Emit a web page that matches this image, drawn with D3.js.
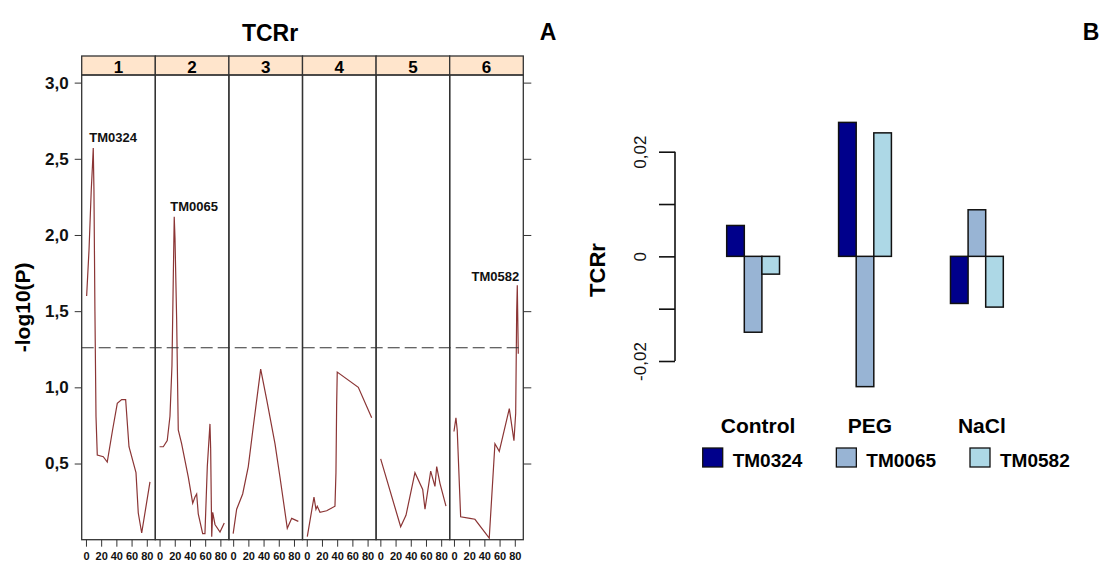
<!DOCTYPE html>
<html>
<head>
<meta charset="utf-8">
<script src="https://cdn.jsdelivr.net/npm/d3@7"></script>
<style>
  body { margin: 0; background: #fff; }
  svg { font-family: "Liberation Sans", Arial, sans-serif; }
</style>
</head>
<body>
<svg id="canvas"></svg>
<script>
// ---- panel A data: -log10(P) along each linkage group (cM, value)
let groups = ['1', '2', '3', '4', '5', '6'];
let lg1 = [[0.9,1.6],[4,1.9],[7,2.3],[8.5,2.45],[9.6,2.57],[10.5,2.3],[11.8,1.5],[13.2,0.81],[14.9,0.556],[22.8,0.545],[28,0.51],[35,0.72],[41.2,0.895],[47,0.92],[52.2,0.92],[56.6,0.61],[65.8,0.44],[68.8,0.175],[73.3,0.044],[84.2,0.38]];
let lg2 = [[0,0.61],[4.9,0.61],[10.1,0.65],[13.7,0.81],[16.3,1.14],[18,1.7],[19.3,2.12],[20.3,1.98],[22.5,1.44],[24.6,0.72],[29,0.63],[37.8,0.41],[43.6,0.24],[46.6,0.28],[48.8,0.3],[50.9,0.17],[56.7,0.04],[59.7,0.04],[62.8,0.48],[66.3,0.76],[67.2,0.6],[68.6,0.02],[69.9,0.18],[72.9,0.1],[79.5,0.05],[85.1,0.11]];
let lg3 = [[0,0.04],[4.6,0.2],[12.5,0.3],[19.9,0.48],[26.4,0.74],[36.2,1.12],[44.1,0.92],[55,0.63],[61.6,0.41],[71.2,0.075],[77,0.14],[85.7,0.12]];
let lg4 = [[0.7,0.02],[9.5,0.28],[12.1,0.2],[13.8,0.22],[17.4,0.18],[26.2,0.19],[37.1,0.22],[38.4,0.44],[39.3,0.88],[40.1,1.1],[67.8,1.0],[85.4,0.8]];
let lg5 = [[0.4,0.53],[26.7,0.085],[33.7,0.16],[45.5,0.44],[55.7,0.33],[58.7,0.2],[66.2,0.45],[71.8,0.35],[74.1,0.48],[78.4,0.37],[86.3,0.22]];
let lg6 = [[0,0.71],[2.6,0.8],[4.3,0.72],[8.8,0.15],[21,0.14],[27.6,0.134],[46.4,0.01],[53.9,0.63],[59.6,0.58],[72.8,0.86],[78.9,0.65],[81.2,0.83],[82.5,1.5],[83.3,1.67],[84.6,1.22]];
let lgValues = [lg1, lg2, lg3, lg4, lg5, lg6];
let peakGroup = ['1', '2', '6'];
let peakPos = [9.6, 19.3, 83.3];
let peakVal = [2.57, 2.12, 1.67];
let peakName = ['TM0324', 'TM0065', 'TM0582'];
let threshold = 1.26;
let yTicksA = [0.5, 1.0, 1.5, 2.0, 2.5, 3.0];
let xTicksA = [0, 20, 40, 60, 80];

// ---- panel B data: TCRr per treatment
let treatments = ['Control', 'PEG', 'NaCl'];
let markers = ['TM0324', 'TM0065', 'TM0582'];
let tm0324 = [0.0059, 0.0256, -0.009];
let tm0065 = [-0.0145, -0.0249, 0.0089];
let tm0582 = [-0.0034, 0.0236, -0.0097];
let yTicksB = [-0.02, -0.01, 0, 0.01, 0.02];
let yTickLabelsB = ['-0,02', '', '0', '', '0,02'];
let markerColors = ['#00008b', '#98b4d4', '#add8e6'];

let width = 1104;
let height = 563;
let fmt = (v) => d3.format('.1f')(v).replace('.', ',');

let svg = d3.select('#canvas').attr('width', width).attr('height', height);
svg.append('rect').attr('width', width).attr('height', height).attr('fill', '#fff');

// ================= panel A =================
let plotLeft = 81.7, plotRight = 523.3, stripTop = 56, plotTop = 75, plotBottom = 539.7;

let panelScale = d3.scaleBand().domain(groups).range([plotLeft, plotRight]);
let xScale = d3.scaleLinear().domain([-5.6, 91.2]).range([0, panelScale.bandwidth()]);
let yScale = d3.scaleLinear().domain([0, 3.05]).range([plotBottom, plotTop]);

let line = d3.line()
  .x((d) => xScale(d[0]))
  .y((d) => yScale(d[1]));

groups.forEach((g, i) => {
  let p = svg.append('g').attr('transform', 'translate(' + panelScale(g) + ',0)');
  p.append('rect')
    .attr('x', 0).attr('y', stripTop)
    .attr('width', panelScale.bandwidth()).attr('height', plotTop - stripTop)
    .attr('fill', '#ffe5cc').attr('stroke', '#333').attr('stroke-width', 1.3);
  p.append('text')
    .attr('x', panelScale.bandwidth() / 2).attr('y', 72.5)
    .attr('text-anchor', 'middle').attr('font-size', 17).attr('font-weight', 'bold')
    .text(g);
  p.append('path')
    .datum(lgValues[i])
    .attr('d', line)
    .attr('fill', 'none').attr('stroke', '#8b3535').attr('stroke-width', 1.2);

  let xAxis = d3.axisBottom(xScale).tickValues(xTicksA).tickSize(7).tickSizeOuter(0);
  let ax = p.append('g').attr('transform', 'translate(0,' + plotBottom + ')').call(xAxis);
  ax.select('.domain').remove();
  ax.selectAll('line').attr('stroke', '#333');
  ax.selectAll('text').attr('font-size', 11).attr('font-weight', 'bold')
    .attr('font-family', '"Liberation Sans", Arial, sans-serif').attr('fill', '#111').attr('dy', '0.95em');

  p.append('rect')
    .attr('x', 0).attr('y', plotTop)
    .attr('width', panelScale.bandwidth()).attr('height', plotBottom - plotTop)
    .attr('fill', 'none').attr('stroke', '#333').attr('stroke-width', 1.3);
});

// threshold line
svg.append('line')
  .attr('x1', plotLeft).attr('x2', plotRight)
  .attr('y1', yScale(threshold)).attr('y2', yScale(threshold))
  .attr('stroke', '#333').attr('stroke-width', 1.2).attr('stroke-dasharray', '12,5');

// y axes
let yAxisA = d3.axisLeft(yScale).tickValues(yTicksA).tickFormat(fmt).tickSize(7).tickSizeOuter(0);
let yl = svg.append('g').attr('transform', 'translate(' + plotLeft + ',0)').call(yAxisA);
yl.select('.domain').remove();
yl.selectAll('line').attr('stroke', '#333');
yl.selectAll('text').attr('font-size', 17).attr('font-weight', 'bold')
  .attr('font-family', '"Liberation Sans", Arial, sans-serif').attr('fill', '#111').attr('x', -13);

let yAxisR = d3.axisRight(yScale).tickValues(yTicksA).tickFormat('').tickSize(8).tickSizeOuter(0);
let yr = svg.append('g').attr('transform', 'translate(' + plotRight + ',0)').call(yAxisR);
yr.select('.domain').remove();
yr.selectAll('line').attr('stroke', '#333');

// peak labels
peakName.forEach((name, i) => {
  let px = panelScale(peakGroup[i]) + xScale(peakPos[i]);
  let py = yScale(peakVal[i]);
  let anchorEnd = i == 2;
  svg.append('text')
    .attr('x', anchorEnd ? px + 2 : px - 4)
    .attr('y', anchorEnd ? py - 4 : py - 6)
    .attr('text-anchor', anchorEnd ? 'end' : 'start')
    .attr('font-size', 13).attr('font-weight', 'bold').attr('fill', '#111')
    .text(name);
});

svg.append('text')
  .attr('transform', 'translate(30,' + ((plotTop + plotBottom) / 2) + ') rotate(-90)')
  .attr('text-anchor', 'middle').attr('font-size', 21).attr('font-weight', 'bold')
  .text('-log10(P)');

svg.append('text')
  .attr('x', 270).attr('y', 41)
  .attr('text-anchor', 'middle').attr('font-size', 23).attr('font-weight', 'bold')
  .text('TCRr');

svg.append('text')
  .attr('x', 548).attr('y', 40)
  .attr('text-anchor', 'middle').attr('font-size', 23).attr('font-weight', 'bold')
  .text('A');

svg.append('text')
  .attr('x', 1091).attr('y', 40)
  .attr('text-anchor', 'middle').attr('font-size', 23).attr('font-weight', 'bold')
  .text('B');

// ================= panel B =================
let series = [tm0324, tm0065, tm0582];
let groupScale = d3.scaleBand().domain(treatments).range([726.7, 1003.3]).paddingInner(0.528).paddingOuter(0);
let barScale = d3.scaleBand().domain(markers).range([0, groupScale.bandwidth()]);
let yScaleB = d3.scaleLinear().domain([-0.02, 0.02]).range([361, 151.7]);

let yAxisB = d3.axisLeft(yScaleB).tickValues(yTicksB).tickFormat((d, i) => yTickLabelsB[i]).tickSize(16).tickSizeOuter(0);
let yb = svg.append('g').attr('transform', 'translate(675,0)').call(yAxisB);
yb.select('.domain').attr('d', 'M0,' + yScaleB(-0.02) + 'V' + yScaleB(0.02)).attr('stroke', '#111').attr('stroke-width', 1.6);
yb.selectAll('line').attr('stroke', '#111').attr('stroke-width', 1.6);
yb.selectAll('text')
  .attr('font-size', 17).attr('font-family', '"Liberation Sans", Arial, sans-serif').attr('fill', '#111')
  .attr('x', null).attr('dy', null)
  .attr('text-anchor', 'middle')
  .attr('transform', 'translate(-29,0) rotate(-90)');

let bars = svg.append('g');
treatments.forEach((t, i) => {
  markers.forEach((m, j) => {
    let v = series[j][i];
    bars.append('rect')
      .attr('x', groupScale(t) + barScale(m))
      .attr('y', yScaleB(Math.max(0, v)))
      .attr('width', barScale.bandwidth())
      .attr('height', Math.abs(yScaleB(v) - yScaleB(0)))
      .attr('fill', markerColors[j])
      .attr('stroke', '#111').attr('stroke-width', 1.5);
  });
  svg.append('text')
    .attr('x', groupScale(t) + groupScale.bandwidth() / 2 + 5)
    .attr('y', 433)
    .attr('text-anchor', 'middle').attr('font-size', 21).attr('font-weight', 'bold')
    .text(t);
});

svg.append('text')
  .attr('transform', 'translate(605,270) rotate(-90)')
  .attr('text-anchor', 'middle').attr('font-size', 22).attr('font-weight', 'bold')
  .text('TCRr');

// legend
let legendScale = d3.scalePoint().domain(markers).range([702.7, 970]);
markers.forEach((m, j) => {
  let lx = legendScale(m);
  svg.append('rect')
    .attr('x', lx).attr('y', 448).attr('width', 20).attr('height', 19)
    .attr('fill', markerColors[j]).attr('stroke', '#111').attr('stroke-width', 1.3);
  svg.append('text')
    .attr('x', lx + 30).attr('y', 467)
    .attr('font-size', 19).attr('font-weight', 'bold')
    .text(m);
});
</script>
</body>
</html>
